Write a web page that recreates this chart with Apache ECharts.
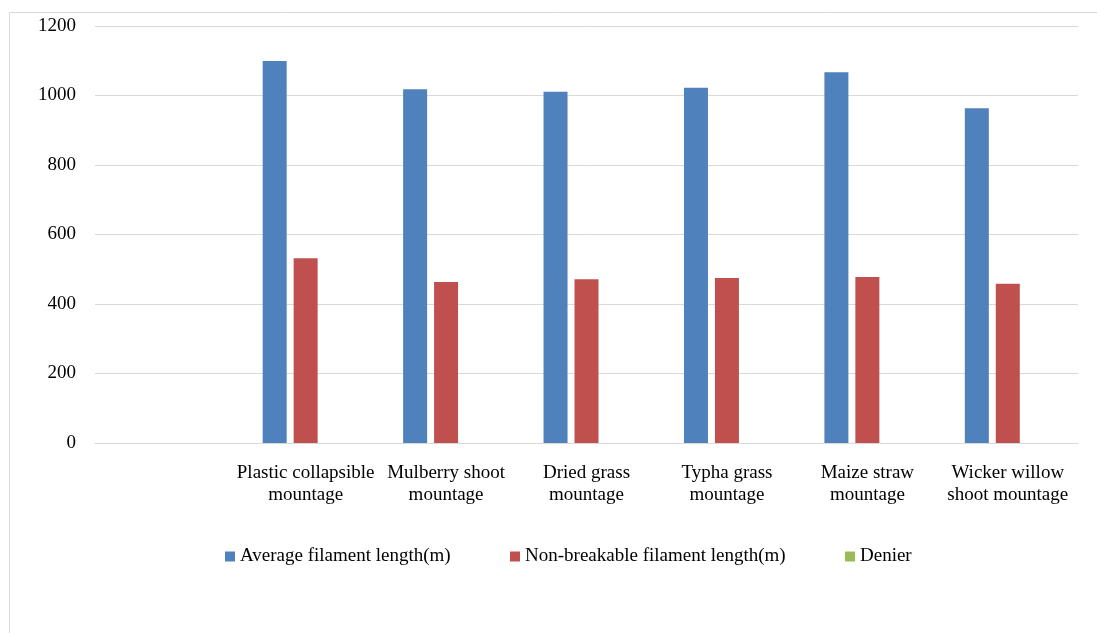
<!DOCTYPE html>
<html>
<head>
<meta charset="utf-8">
<script src="https://cdn.jsdelivr.net/npm/echarts@6/dist/echarts.min.js"></script>
<style>
  html, body { margin: 0; padding: 0; background: #ffffff; }
  #chart { width: 1097px; height: 633px; }
</style>
</head>
<body>
<div id="chart"></div>
<script>
// Mountage types (the first slot is left empty)
const categories = [
  '',
  'Plastic collapsible\nmountage',
  'Mulberry shoot\nmountage',
  'Dried grass\nmountage',
  'Typha grass\nmountage',
  'Maize straw\nmountage',
  'Wicker willow\nshoot mountage'
];
const seriesNames = ['Average filament length(m)', 'Non-breakable filament length(m)', 'Denier'];
const averageLength = [null, 1099, 1018, 1011, 1022, 1067, 963];
const nonBreakableLength = [null, 532, 463, 471, 475, 478, 458];
const denier = [null, 0, 0, 0, 0, 0, 0];
const yTicks = { min: 0, max: 1200, interval: 200 };

const FONT = '"Liberation Serif", "Times New Roman", serif';
const FONT_SIZE = 19;
const colors = ['#4F81BD', '#C0504D', '#9BBB59'];
const legendLefts = [225, 510, 845];

const chart = echarts.init(document.getElementById('chart'), null, { renderer: 'canvas' });

chart.setOption({
  animation: false,
  backgroundColor: '#ffffff',
  color: colors,
  graphic: [{
    type: 'rect',
    shape: { x: 9.5, y: 12.5, width: 1200, height: 700 },
    style: { fill: 'none', stroke: '#d9d9d9', lineWidth: 1 },
    silent: true
  }],
  grid: { left: 95, right: 19, top: 26, bottom: 190 },
  legend: seriesNames.map((name, i) => ({
    left: legendLefts[i],
    top: 547,
    padding: 0,
    itemWidth: 10,
    itemHeight: 10,
    icon: 'rect',
    textStyle: { fontFamily: FONT, fontSize: FONT_SIZE, color: '#000000' },
    data: [name]
  })),
  xAxis: {
    type: 'category',
    data: categories,
    axisLine: { show: true, lineStyle: { color: '#d9d9d9', width: 1 } },
    axisTick: { show: false },
    axisLabel: {
      interval: 0,
      margin: 19,
      fontFamily: FONT,
      fontSize: FONT_SIZE,
      lineHeight: 22,
      color: '#000000',
      align: 'center'
    }
  },
  yAxis: {
    type: 'value',
    min: yTicks.min,
    max: yTicks.max,
    interval: yTicks.interval,
    axisLine: { show: false },
    axisTick: { show: false },
    splitLine: { lineStyle: { color: '#d9d9d9', width: 1 } },
    axisLabel: {
      margin: 19,
      fontFamily: FONT,
      fontSize: FONT_SIZE,
      color: '#000000',
      formatter: (v) => String(v)
    }
  },
  series: [
    { name: seriesNames[0], type: 'bar', data: averageLength, barWidth: 24, barGap: '29%' },
    { name: seriesNames[1], type: 'bar', data: nonBreakableLength, barWidth: 24, barGap: '29%' },
    { name: seriesNames[2], type: 'bar', data: denier, barWidth: 24, barGap: '29%' }
  ]
});
</script>
</body>
</html>
